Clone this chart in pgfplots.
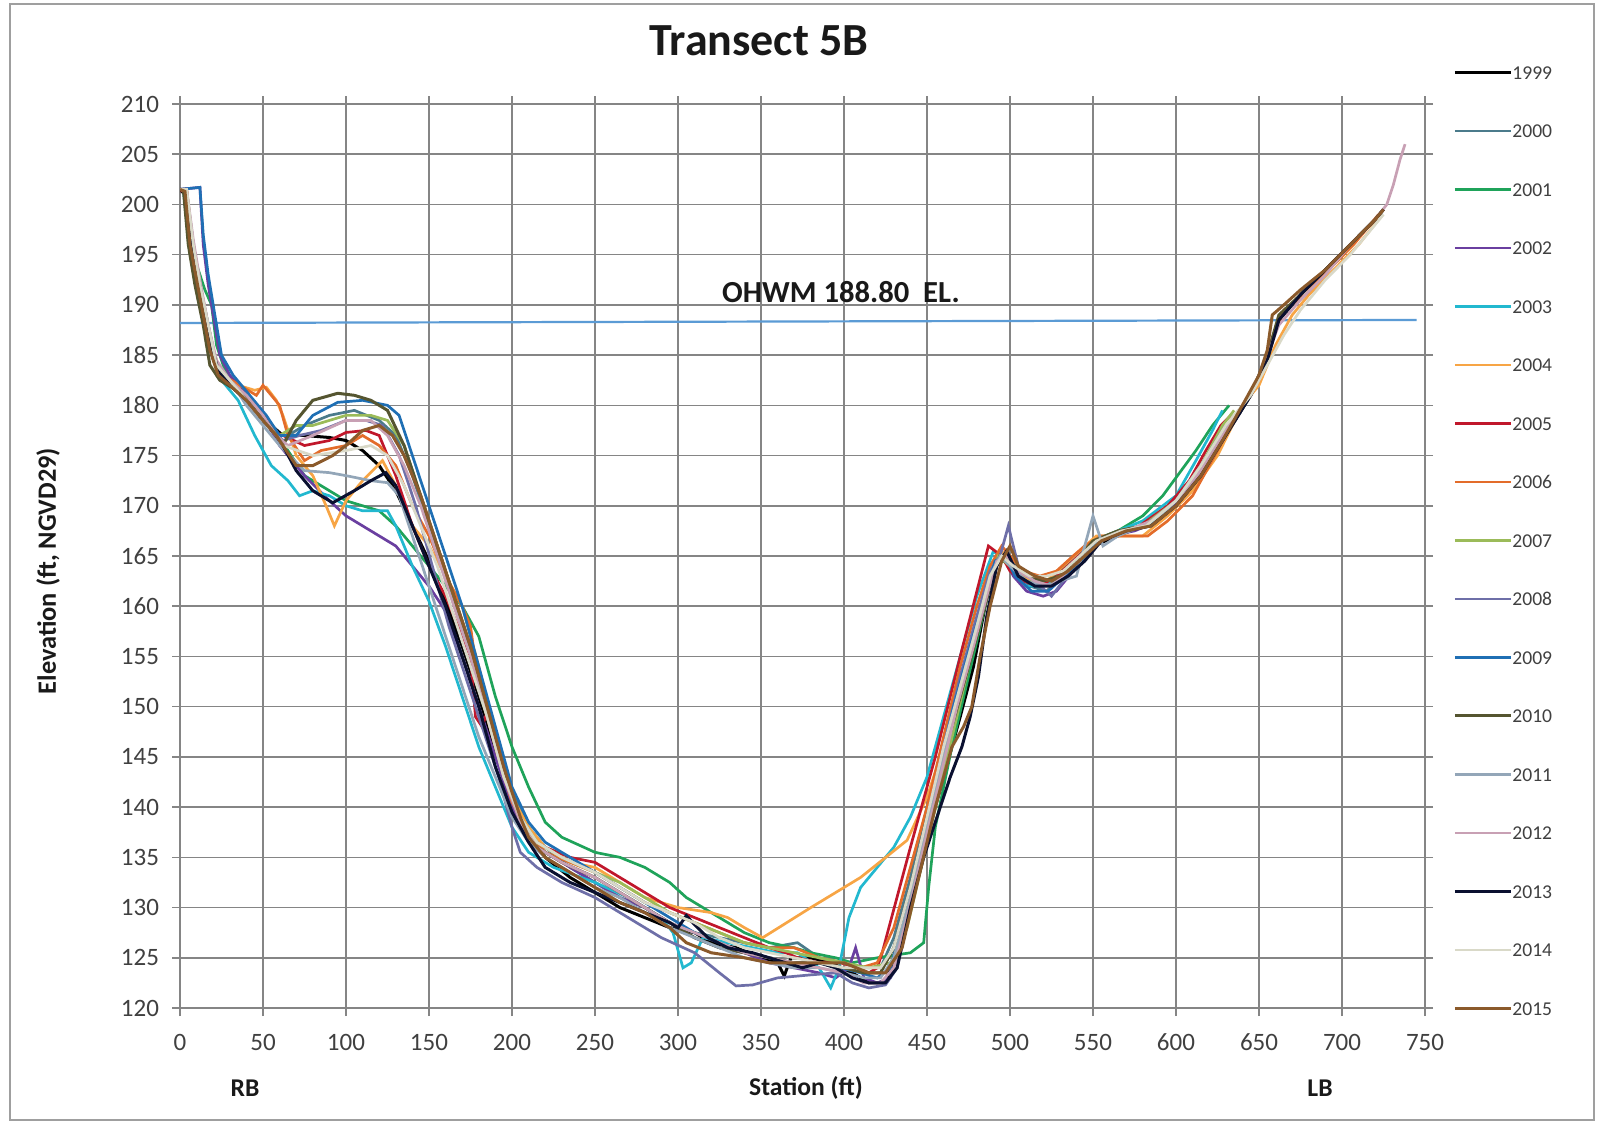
\documentclass[border=0pt]{standalone}
\usepackage{fontspec}
\setmainfont{Carlito}
\usepackage{pgfplots}
\pgfplotsset{compat=1.18}
\definecolor{gridc}{HTML}{858585}
\definecolor{tickc}{HTML}{404040}
\definecolor{c1999}{HTML}{000000}
\definecolor{c2000}{HTML}{4B7B8B}
\definecolor{c2001}{HTML}{1FA35A}
\definecolor{c2002}{HTML}{6A3FA0}
\definecolor{c2003}{HTML}{22B8CF}
\definecolor{c2004}{HTML}{F7A545}
\definecolor{c2005}{HTML}{C0172B}
\definecolor{c2006}{HTML}{E36C2A}
\definecolor{c2007}{HTML}{9BBB59}
\definecolor{c2008}{HTML}{6E6FA8}
\definecolor{c2009}{HTML}{1F6FB4}
\definecolor{c2010}{HTML}{555530}
\definecolor{c2011}{HTML}{93A6B8}
\definecolor{c2012}{HTML}{C8A0B4}
\definecolor{c2013}{HTML}{0A1030}
\definecolor{c2014}{HTML}{D9D9C8}
\definecolor{c2015}{HTML}{8B5A2B}
\definecolor{ohwm}{HTML}{5B9BD5}
\begin{document}
\begin{tikzpicture}[x=1pt,y=1pt]
\useasboundingbox (0,0) rectangle (799,-561);
\draw[gray!75, line width=1pt] (5,-2) rectangle (797,-560);
\begin{axis}[
  at={(90pt,-504pt)}, anchor=south west,
  scale only axis, width=622.5pt, height=452pt,
  xmin=0, xmax=750, ymin=120, ymax=210,
  xtick={0,50,...,750}, ytick={120,125,...,210},
  grid=major, grid style={color=gridc, line width=0.8pt},
  axis line style={color=gridc, line width=0.8pt},
  tick style={color=gridc, line width=0.8pt},
  tick align=outside, major tick length=4pt,
  ticklabel style={font=\fontsize{12.5}{14}\selectfont, text=tickc},
  xticklabel style={yshift=-5.5pt},
  yticklabel style={xshift=-3pt},
  /pgf/number format/assume math mode=true,
  every axis plot/.append style={no markers, line width=1.35pt},
  legend style={at={(1.0225,1.0431)}, anchor=north west, draw=none, fill=none,
    inner sep=0pt, row sep=22.25pt, font=\fontsize{9.8}{10}\selectfont, text=tickc,
    nodes={inner sep=0pt, text height=7pt, text depth=0pt},
    /tikz/every even column/.append style={column sep=2pt}},
  legend image code/.code={\draw[#1] (0pt,0pt) -- (28pt,0pt);},
  legend cell align=left,
]
\addplot[ohwm, line width=1.1pt, forget plot] coordinates {(0,188.2) (745,188.5)};
\addplot[c1999, line width=1.5pt] coordinates {(0,201.5)(3,201)(7,195)(12,191)(18,185.5)(25,183)(35,181.5)(45,180)(55,178)(62,177)(75,177)(90,176.8)(100,176.5)(110,175.5)(120,174)(130,171.5)(140,168)(150,164.5)(160,160.5)(170,156)(180,151)(190,145.5)(200,141)(210,137.5)(220,135)(235,133)(250,131.5)(265,130)(280,129)(295,128)(310,127.5)(320,126.5)(335,126)(350,125)(360,124.5)(364,123.2)(368,125)(380,125)(392,124.5)(405,123.5)(415,122.5)(425,122.5)(432,126)(440,131)(450,137)(460,143)(470,149)(478,154)(485,160)(490,164)(495,165)(500,164)(510,162)(520,162)(530,163)(540,164.5)(550,166)(565,167)(580,168)(600,170)(615,173)(630,177)(645,181)(655,185)(662,188.5)(675,191)(690,193.5)(705,196)(720,198.5)(725,199.5)};
\addlegendentry{1999}
\addplot[c2000] coordinates {(0,201.5)(4,201.3)(8,196)(12,192)(17,188)(22,184)(30,182.5)(40,180.5)(50,178.5)(58,177)(65,177)(75,178)(90,179)(105,179.5)(120,178.5)(130,177)(140,173)(150,168)(160,163)(170,158)(180,152.5)(190,147)(200,141.5)(210,138)(220,136)(235,134)(250,132.5)(265,131)(280,130)(295,128.5)(310,127.5)(325,127)(340,126.5)(355,126)(365,126.3)(372,126.5)(385,125)(400,124.5)(412,124)(422,124)(430,127)(440,133)(450,140)(460,146)(470,152)(480,158)(488,163)(495,165)(502,163.5)(512,162)(522,161.5)(532,163)(542,164.5)(552,166.5)(567,167.5)(582,168)(600,170)(615,173)(628,177)(635,179)};
\addlegendentry{2000}
\addplot[c2001] coordinates {(3,201.5)(6,197)(10,194)(15,191.5)(19,190)(22,186)(27,183.5)(35,182)(45,180)(55,177.5)(65,175.5)(75,173)(85,172)(100,170.5)(110,170)(120,169.5)(130,168)(140,166)(150,164)(160,162)(170,160)(180,157)(190,151)(200,146)(210,142)(220,138.5)(230,137)(250,135.5)(265,135)(280,134)(295,132.5)(305,131)(320,129.5)(340,127.5)(355,126.5)(370,126)(380,125.5)(395,125)(405,124.5)(420,125)(440,125.5)(448,126.5)(451,132)(455,138)(465,146)(475,153)(485,160)(492,165)(500,164)(510,162.5)(520,162)(530,163.5)(540,165)(550,166.5)(565,167.5)(580,169)(592,171)(600,172.8)(612,175.5)(622,178)(632,180)};
\addlegendentry{2001}
\addplot[c2002] coordinates {(0,201.5)(12,201.7)(14,196)(17,192)(20,189)(24,185)(30,183)(40,181)(50,179)(60,176)(75,173)(90,170.5)(100,169)(115,167.5)(130,166)(140,164)(150,162)(160,159.5)(170,155)(180,150)(190,145)(200,140)(210,137)(220,135.5)(235,134)(250,132.5)(265,131)(280,130)(295,128.5)(310,127)(325,126)(340,125.5)(355,124.5)(370,124)(385,123.5)(395,123)(403,124)(407,126)(412,123)(420,122.5)(428,123)(435,127)(445,134)(455,141)(465,148)(475,155)(485,161)(490,164)(496,165)(502,163)(510,161.5)(520,161)(528,161.5)(538,163.5)(548,166)(560,167)(575,167.5)(590,168.5)(605,171)(618,174.5)(630,178)};
\addlegendentry{2002}
\addplot[c2003] coordinates {(2,201.5)(5,197)(9,193)(14,189)(19,185)(25,182.5)(35,180.5)(45,177)(55,174)(65,172.5)(72,171)(80,171.5)(90,171)(100,170)(110,169.5)(125,169.5)(130,168)(140,164)(150,160.5)(160,156)(170,151)(180,146)(190,142)(200,138)(210,135.5)(225,134)(250,132.5)(270,131)(290,129)(297,127.5)(303,124)(308,124.5)(315,127)(330,126.5)(345,126)(360,125.5)(372,125.5)(385,124)(392,122)(397,124)(403,129)(410,132)(420,134)(430,136)(440,139)(450,143)(460,149)(470,155)(480,161)(490,165.5)(500,164)(510,162)(520,162)(530,163)(540,165)(550,166.5)(565,167.5)(580,168.5)(600,171)(612,174.5)(622,177.5)(628,179.5)};
\addlegendentry{2003}
\addplot[c2004] coordinates {(0,201.5)(4,201.5)(7,197)(11,193)(15,189)(19,186)(25,183)(35,182)(45,181.5)(52,181.8)(58,180.5)(62,179)(70,175)(80,173)(88,170)(93,168)(100,170.5)(110,172.5)(122,174.5)(130,172)(140,168)(150,166)(160,163)(170,160)(180,154)(190,147)(200,141)(210,138)(220,136)(235,134.5)(250,134)(265,132.5)(280,131)(300,130)(320,129.5)(330,129)(340,128)(351,127)(380,130)(410,133)(438,136.7)(450,141)(460,146)(470,153)(480,158)(488,163)(495,165.5)(502,164)(512,162.5)(522,162.5)(532,164)(542,165.5)(552,167)(567,167)(580,167)(595,169)(610,171.5)(625,175)(640,180)(650,182)(660,186)(670,189)(680,191)(695,193.5)(710,196)(722,198.5)};
\addlegendentry{2004}
\addplot[c2005] coordinates {(0,201.5)(4,201)(8,196)(12,192)(16,188)(20,185)(26,183)(36,181.5)(46,179.5)(55,177.5)(62,177)(75,176)(90,176.5)(100,177.3)(112,177.5)(120,177)(130,173)(140,168)(150,164)(160,161)(170,157)(175,155)(178,149)(182,148)(186,150)(192,146)(200,141)(210,137)(220,136)(235,135)(250,134.5)(265,133)(280,131.5)(295,130)(310,129)(325,128)(340,127)(355,126)(365,125.5)(372,125)(385,124.5)(398,124.5)(408,124)(415,123.5)(420,124)(423,125.5)(440,136)(455,145)(470,155)(487,166)(495,165)(500,163.5)(508,162.5)(518,162)(528,163)(538,164.5)(548,166)(562,167)(578,168)(595,170)(608,172.5)(618,175.5)(627,178)(633,179)};
\addlegendentry{2005}
\addplot[c2006] coordinates {(0,201.5)(4,201.5)(7,196)(11,192)(15,188)(20,185)(26,183)(36,182)(46,181)(50,182)(55,181)(60,180)(65,177)(75,174.5)(85,175.5)(100,176)(110,177)(120,176)(130,174)(140,170)(150,167)(160,163)(170,160)(175,158)(180,152)(190,146)(200,140.5)(210,137.5)(220,135.5)(235,134.5)(250,133.5)(265,132)(280,130.5)(295,129.5)(310,128.5)(325,127.5)(340,126.5)(355,126)(370,126)(385,125)(400,124.5)(410,124)(420,124.5)(430,128)(440,134)(450,140)(460,147)(470,154)(480,160)(488,164)(495,166)(500,165)(508,163.5)(518,163)(528,163.5)(538,165)(545,166)(555,167)(570,167)(583,167)(595,168.5)(610,171)(625,175.5)(640,180)(650,182.5)(658,186.5)(665,189.5)(678,191)(692,193.5)(707,196)(722,199)};
\addlegendentry{2006}
\addplot[c2007] coordinates {(0,201.5)(4,201.3)(8,196)(12,192)(17,188)(22,184)(30,182.5)(40,180.5)(50,178.5)(60,177)(70,178)(80,178)(100,179)(115,179)(125,178.5)(135,176)(145,171)(155,166)(165,161)(175,156)(185,150)(195,144)(205,139)(215,136.5)(230,135)(250,133.5)(265,132.5)(280,131)(295,129.5)(310,128.5)(325,127.5)(340,126.5)(355,126)(370,125.5)(385,125)(400,124.5)(415,124)(428,124.5)(438,128)(448,135)(458,142)(468,149)(478,156)(487,162)(493,165)(500,164)(510,162.5)(520,162.5)(530,163)(540,164.5)(550,166.5)(565,167.5)(580,168)(600,170.5)(615,174)(628,178)(635,179.5)};
\addlegendentry{2007}
\addplot[c2008] coordinates {(0,201.5)(3,201.5)(6,197)(10,193.5)(14,190)(18,186.5)(22,184)(28,182.5)(38,181)(48,179)(56,177.5)(62,176.5)(72,177)(85,177.5)(100,178.5)(112,178.5)(122,178)(132,175)(142,170)(152,164)(162,158)(172,153)(182,148)(192,143)(200,138)(205,135.5)(215,134)(230,132.5)(250,131)(270,129)(290,127)(310,125.5)(325,123.5)(335,122.2)(345,122.3)(360,123)(380,123.3)(395,123.5)(405,122.5)(415,122)(425,122.3)(432,124)(440,130)(450,138)(460,146)(470,153)(480,159)(488,163.5)(494,165)(499,168)(505,164)(515,162.5)(525,161)(532,162.5)(542,164.5)(552,166.5)(567,167.5)(582,168)(600,170.5)(615,174)(630,178)};
\addlegendentry{2008}
\addplot[c2009] coordinates {(0,201.5)(12,201.7)(14,197)(17,193)(21,189)(25,185)(32,183)(42,181)(52,179)(60,177)(70,177)(80,179)(95,180.3)(110,180.5)(125,180)(132,179)(140,175)(150,170)(160,165)(170,160)(180,154)(190,148)(200,142)(210,138.5)(220,136.5)(235,135)(250,133.5)(265,132)(280,130.5)(295,129)(310,127.5)(325,126.5)(340,125.5)(355,125)(370,124.5)(385,124.5)(398,124)(410,123.5)(420,123)(428,124)(436,129)(446,136)(456,143)(466,150)(476,156)(485,161)(491,164.5)(497,165)(503,163)(513,161.5)(523,161.5)(533,163)(543,164.5)(553,166.5)(568,167.5)(583,168)(600,170)(615,173.5)(630,177.5)(640,180)};
\addlegendentry{2009}
\addplot[c2010, line width=1.5pt] coordinates {(2,201.5)(5,196)(9,192)(14,188)(18,184)(24,182.5)(34,181.5)(44,180)(54,178)(62,176)(70,178.5)(80,180.5)(95,181.2)(105,181)(115,180.5)(125,179.5)(135,176)(145,171)(155,166)(165,161)(175,156)(185,150)(195,143.5)(205,138.5)(215,136)(230,134.5)(250,133)(265,131.5)(280,130)(295,128.5)(310,127)(325,126)(340,125.5)(355,125)(370,124.5)(385,124.5)(400,124)(412,123.5)(422,123.5)(430,126)(440,132)(450,139)(460,145)(470,151)(480,157)(488,162)(494,165)(500,164.5)(510,163)(520,162.5)(530,163)(540,164.5)(550,166.5)(565,167.5)(580,168)(600,170)(615,173)(630,177.5)(645,181)(655,185)(662,189)(675,191)(690,193.5)(705,196)(720,198.5)(725,199.5)};
\addlegendentry{2010}
\addplot[c2011] coordinates {(0,201.5)(4,201.3)(8,196)(12,192)(17,188)(22,184)(30,182.5)(40,180)(50,178)(60,176)(75,173.5)(90,173.3)(100,173)(115,172.5)(125,172.3)(132,171)(140,167)(150,162)(160,157)(170,152)(180,147)(190,143)(200,139)(210,136.5)(220,135)(235,133.5)(250,132)(265,131)(280,129.5)(295,128)(310,127)(325,126)(340,125)(355,124.5)(370,124)(385,124)(400,123.5)(412,123)(422,123)(430,125)(440,131)(450,138)(460,145)(470,152)(480,158)(488,163)(494,165)(500,164)(510,162.5)(520,162)(530,162.5)(540,163)(550,169)(556,166)(565,167)(580,168)(600,170)(615,173.5)(630,177.5)(640,180)};
\addlegendentry{2011}
\addplot[c2012] coordinates {(0,201.5)(4,201.5)(8,196.5)(12,192.5)(17,188)(22,184.5)(30,182.5)(40,181)(50,179)(58,177)(65,176)(80,177)(100,178.5)(115,178.5)(125,177)(135,174)(145,170)(155,165)(165,160)(175,155)(185,149)(195,143)(205,138.5)(215,136)(230,134.5)(250,133)(265,131.5)(280,130)(295,128.5)(310,127.5)(325,126.5)(340,125.5)(355,125)(370,124.5)(385,124)(400,123.5)(412,122.5)(422,122.5)(430,124)(438,129)(448,136)(458,143)(468,150)(478,156)(486,161)(492,164.5)(498,165)(505,163.5)(515,162.5)(525,162)(535,163.5)(545,165)(555,166.5)(570,167.5)(585,168.5)(600,170.5)(615,173.5)(630,177.5)(645,181)(655,185)(662,188)(675,190.5)(690,193)(705,196)(720,198.5)(727,200)(731,202)(735,204.5)(738,206)};
\addlegendentry{2012}
\addplot[c2013, line width=1.5pt] coordinates {(0,201.5)(3,201.5)(6,197)(10,193.5)(14,190)(18,186.5)(23,183.5)(30,182)(40,180.5)(50,178.5)(58,177)(62,176)(70,173.5)(80,171.5)(92,170.3)(105,171.5)(115,172.5)(124,173.3)(130,172)(140,168)(150,164)(160,160)(170,155)(180,150)(190,144)(200,139.5)(210,136.5)(220,134)(235,132.5)(250,131.5)(265,130.5)(280,129.5)(295,128.5)(300,128)(305,129.2)(310,128.3)(318,127)(330,126)(345,125.5)(355,125)(365,124.5)(375,124)(385,124.5)(395,124)(405,123)(415,122.5)(425,122.5)(432,124)(440,130)(448,135)(456,139)(464,143)(471,146)(476,149)(481,153)(486,159)(492,164)(498,165.5)(505,163)(515,162)(525,162)(535,163)(545,164.5)(555,166.5)(570,167.5)(585,168)(600,170)(615,173)(630,177)(645,181)(655,184.5)(662,188.5)(675,191)(690,193.5)(705,196)(720,198.5)(725,199.5)};
\addlegendentry{2013}
\addplot[c2014] coordinates {(0,201.5)(4,201.5)(8,196)(12,192)(17,188)(22,184)(30,182.5)(40,180.5)(50,178.5)(58,177)(62,176)(80,175)(100,175.5)(115,176)(125,175)(135,172)(145,168)(155,164)(165,159)(175,154)(185,149)(195,143)(205,139)(215,136.5)(230,135)(250,133.5)(265,132)(280,130.5)(295,129.5)(310,128.5)(325,127)(340,126)(355,125.5)(370,125)(385,124.5)(400,124)(412,124)(422,124)(430,126)(440,132)(450,139)(460,146)(470,152)(480,158)(488,163)(495,165)(502,164)(512,163)(522,163)(532,163.5)(542,165)(552,166.5)(567,167.5)(582,168)(600,170.5)(615,174)(630,178)(645,181)(655,184)(665,187)(675,189.5)(690,192.5)(705,195)(720,198)(725,199)};
\addlegendentry{2014}
\addplot[c2015, line width=1.5pt] coordinates {(0,201.5)(3,201.3)(6,196)(10,192.5)(14,189)(18,185.5)(23,183)(30,182)(40,180.5)(50,178.5)(58,177)(62,176)(70,174)(80,174)(92,175)(100,176)(110,177.5)(120,178)(128,177)(135,175)(145,171)(155,166)(165,161)(175,156)(185,150)(195,144)(205,139)(210,137)(220,135)(235,133.5)(250,132)(265,130.5)(280,129.5)(295,128)(305,126.5)(320,125.5)(340,125)(355,124.5)(370,124.5)(385,124.5)(400,124.5)(415,123.5)(425,123.5)(435,126)(445,133)(455,140)(465,146)(472,148)(477,150)(482,155)(488,160)(495,164.5)(500,166)(505,164)(515,163)(525,162.5)(535,163.5)(545,165)(555,166.5)(570,167.5)(585,168)(600,170)(615,173)(628,176.5)(640,180)(650,183)(655,185.5)(658,189)(665,190)(675,191.5)(690,193.5)(705,196)(720,198.5)(725,199.5)};
\addlegendentry{2015}
\end{axis}
\node[font=\bfseries\fontsize{23}{27}\selectfont, text=black!90] at (379.5,-20.5) {Transect 5B};
\node[font=\bfseries\fontsize{15.3}{17}\selectfont, text=black!90] at (420.5,-146) {OHWM 188.80\ \ EL.};
\node[rotate=90, font=\bfseries\fontsize{13.2}{15}\selectfont, text=black!90] at (24,-285.5) {Elevation (ft, NGVD29)};
\node[font=\bfseries\fontsize{12.8}{14}\selectfont, text=black!90] at (403,-544) {Station (ft)};
\node[font=\bfseries\fontsize{12.8}{14}\selectfont, text=black!90] at (122.5,-544) {RB};
\node[font=\bfseries\fontsize{12.8}{14}\selectfont, text=black!90] at (660,-544) {LB};
\end{tikzpicture}
\end{document}
